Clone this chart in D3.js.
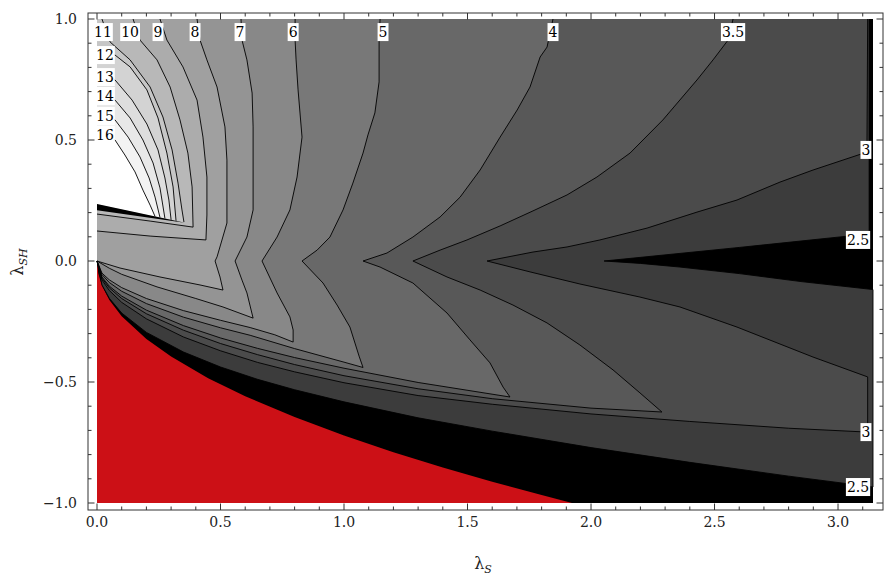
<!DOCTYPE html>
<html><head><meta charset="utf-8">
<script src="https://cdn.jsdelivr.net/npm/d3@7"></script>
<style>body{margin:0;background:#fff}
.sf{font-family:"DejaVu Serif", serif !important}
</style>
</head><body><svg id="c" width="884" height="579" style="font-family:'DejaVu Serif', serif"></svg>
<script>
// ---------- data ----------
const xDomain = [0, Math.PI];
const yDomain = [-1, 1];
const xTicks = [0, 0.5, 1, 1.5, 2, 2.5, 3];
const yTicks = [-1, -0.5, 0, 0.5, 1];
const levels = [2.5, 3, 3.5, 4, 5, 6, 7, 8, 9, 10, 11, 12, 13, 14, 15, 16];
const bandColors = ["#3c3c3c","#4b4b4b","#585858","#686868","#787878","#888888","#949494","#a0a0a0","#acacac","#b8b8b8","#c6c6c6","#d3d3d3","#dedede","#e8e8e8","#f3f3f3","#ffffff"];

// contour lines (λS, λSH)
const c25 = [[0,0],[0.02,-0.099],[0.05,-0.154],[0.1,-0.215],[0.2,-0.295],[0.35,-0.376],[0.5,-0.438],[0.65,-0.489],[0.8,-0.532],[1.0,-0.582],[1.3,-0.648],[1.6,-0.703],[2.0,-0.771],[2.4,-0.832],[2.8,-0.889],[3.1416,-0.934],[3.1416,-0.118],[2.85,-0.085],[2.6,-0.052],[2.36,-0.025],[2.2,-0.01],[2.053,0],[2.6,0.056],[3.126,0.112],[3.126,1.0]];
const c3 = [[0,0],[0.02,-0.078],[0.05,-0.122],[0.1,-0.171],[0.2,-0.239],[0.35,-0.314],[0.5,-0.371],[0.65,-0.419],[0.8,-0.458],[1.0,-0.503],[1.3,-0.556],[1.6,-0.592],[2.0,-0.632],[2.4,-0.663],[2.8,-0.691],[3.12,-0.707],[3.12,-0.479],[2.899,-0.397],[2.591,-0.273],[2.36,-0.19],[2.198,-0.149],[1.955,-0.095],[1.753,-0.045],[1.579,0],[1.765,0.037],[1.903,0.058],[2.036,0.087],[2.227,0.136],[2.429,0.202],[2.591,0.252],[2.765,0.326],[2.899,0.376],[3.117,0.45],[3.12,1.0]];
const c35 = [[0,0],[0.02,-0.071],[0.05,-0.111],[0.1,-0.155],[0.2,-0.218],[0.35,-0.286],[0.5,-0.341],[0.65,-0.387],[0.8,-0.428],[1.0,-0.474],[1.3,-0.528],[1.6,-0.569],[2.0,-0.608],[2.287,-0.624],[2.198,-0.545],[2.089,-0.45],[1.955,-0.347],[1.822,-0.256],[1.684,-0.182],[1.551,-0.12],[1.417,-0.066],[1.279,0],[1.389,0.045],[1.498,0.087],[1.632,0.145],[1.765,0.207],[1.903,0.273],[2.024,0.347],[2.158,0.446],[2.291,0.583],[2.429,0.748],[2.494,0.831],[2.555,0.913],[2.575,1.0]];
const c4 = [[0,0],[0.02,-0.066],[0.05,-0.104],[0.1,-0.145],[0.2,-0.203],[0.35,-0.267],[0.5,-0.318],[0.65,-0.361],[0.8,-0.399],[1.0,-0.443],[1.3,-0.502],[1.672,-0.562],[1.644,-0.521],[1.591,-0.421],[1.51,-0.326],[1.417,-0.215],[1.279,-0.091],[1.146,-0.025],[1.077,0],[1.174,0.033],[1.279,0.099],[1.389,0.182],[1.47,0.264],[1.551,0.376],[1.632,0.512],[1.701,0.624],[1.753,0.719],[1.794,0.843],[1.822,0.884],[1.846,1.0]];
const c5 = [[0,0],[0.02,-0.056],[0.05,-0.089],[0.1,-0.125],[0.2,-0.176],[0.35,-0.232],[0.5,-0.276],[0.62,-0.307],[0.8,-0.362],[1.0,-0.418],[1.077,-0.44],[1.061,-0.393],[1.024,-0.273],[0.972,-0.182],[0.915,-0.091],[0.83,0],[0.891,0.045],[0.943,0.099],[0.996,0.211],[1.036,0.322],[1.077,0.446],[1.097,0.521],[1.125,0.612],[1.142,0.74],[1.142,0.913],[1.146,1.0]];
const c6 = [[0,0],[0.02,-0.05],[0.05,-0.078],[0.1,-0.11],[0.2,-0.155],[0.35,-0.205],[0.5,-0.245],[0.62,-0.275],[0.72,-0.305],[0.794,-0.335],[0.794,-0.285],[0.781,-0.231],[0.729,-0.132],[0.668,0],[0.729,0.099],[0.781,0.211],[0.81,0.347],[0.83,0.512],[0.814,0.707],[0.806,0.831],[0.802,0.913],[0.802,1.0]];
const c7 = [[0,0],[0.05,-0.03],[0.1,-0.055],[0.243,-0.107],[0.4,-0.155],[0.51,-0.19],[0.632,-0.236],[0.607,-0.132],[0.587,-0.079],[0.559,0],[0.607,0.099],[0.632,0.211],[0.632,0.554],[0.628,0.694],[0.607,0.831],[0.587,0.913],[0.583,1.0]];
const c8 = [[0,0],[0.093,-0.029],[0.255,-0.066],[0.417,-0.099],[0.51,-0.12],[0.498,-0.066],[0.478,0],[0.486,0.017],[0.526,0.157],[0.526,0.417],[0.518,0.554],[0.486,0.719],[0.445,0.831],[0.417,0.913],[0.405,1.0]];
const c9 = [[0.255,1.0],[0.283,0.913],[0.348,0.802],[0.405,0.665],[0.429,0.512],[0.445,0.347],[0.445,0.19],[0.441,0.087],[0.215,0.103],[0,0.124]];
const c10 = [[0.146,1.0],[0.174,0.913],[0.243,0.831],[0.296,0.719],[0.336,0.583],[0.368,0.446],[0.385,0.306],[0.389,0.14],[0.215,0.165],[0,0.194]];
const c11 = [[0.02,1.0],[0.053,0.905],[0.134,0.831],[0.215,0.719],[0.267,0.595],[0.304,0.459],[0.328,0.322],[0.344,0.211],[0.352,0.161]];
const c12 = [[0,0.86],[0.073,0.851],[0.134,0.802],[0.202,0.707],[0.247,0.591],[0.283,0.446],[0.308,0.306],[0.32,0.166]];
const c13 = [[0,0.769],[0.073,0.748],[0.142,0.665],[0.202,0.566],[0.247,0.459],[0.275,0.343],[0.291,0.252],[0.3,0.17]];
const c14 = [[0,0.686],[0.073,0.665],[0.134,0.591],[0.186,0.5],[0.227,0.405],[0.255,0.302],[0.275,0.176]];
const c15 = [[0,0.603],[0.073,0.583],[0.126,0.512],[0.174,0.43],[0.211,0.343],[0.235,0.264],[0.255,0.18]];
const c16 = [[0,0.525],[0.073,0.5],[0.113,0.438],[0.154,0.368],[0.186,0.293],[0.215,0.231],[0.235,0.184]];
const contourLines = [c25, c3, c35, c4, c5, c6, c7, c8, c9, c10, c11, c12, c13, c14, c15, c16];
// boundary points that close each super-level region
const closeTop = [[0,1]];
const closeWedge = [[0,0.236]];
const closures = [closeTop, closeTop, closeTop, closeTop, closeTop, closeTop, closeTop, closeTop, closeTop, closeTop, [[0,0.236],[0,1]], closeWedge, closeWedge, closeWedge, closeWedge, closeWedge];

const wedge = [[0,0.236],[0.355,0.158],[0,0.21]];
const redBoundary = [[0,0],[0.005,-0.051],[0.02,-0.102],[0.05,-0.161],[0.1,-0.228],[0.2,-0.322],[0.3,-0.395],[0.45,-0.484],[0.6,-0.559],[0.8,-0.645],[1.0,-0.721],[1.2,-0.79],[1.4,-0.853],[1.6,-0.912],[1.8,-0.967],[1.923,-1.0],[0,-1]];

const labelText = ["11","10","9","8","7","6","5","4","3.5","12","13","14","15","16","3","2.5","3","2.5"];
const labelX = [0.024,0.134,0.247,0.397,0.579,0.794,1.158,1.846,2.575,0.032,0.032,0.032,0.032,0.032,3.113,3.081,3.113,3.081];
const labelY = [0.946,0.946,0.946,0.946,0.946,0.946,0.946,0.946,0.946,0.851,0.76,0.682,0.599,0.521,0.459,0.087,-0.707,-0.934];

// ---------- drawing ----------
const svg = d3.select("#c");
const x = d3.scaleLinear().domain(xDomain).range([97, 873]);
const y = d3.scaleLinear().domain(yDomain).range([503, 19]);
const line = d3.line().x(d => x(d[0])).y(d => y(d[1]));
const frame = {l: 88, t: 13, r: 883, b: 510};

const plot = svg.append("g");
plot.append("rect").attr("x", x(0)).attr("y", y(1)).attr("width", x(Math.PI) - x(0)).attr("height", y(-1) - y(1)).attr("fill", "#000");
contourLines.forEach((pts, i) => {
  plot.append("path").attr("d", line(pts.concat(closures[i])) + "Z").attr("fill", bandColors[i]);
});
plot.append("path").attr("d", line(wedge) + "Z").attr("fill", "#000");
plot.append("path").attr("d", line(redBoundary) + "Z").attr("fill", "#cc1016");
contourLines.forEach(pts => {
  plot.append("path").attr("d", line(pts)).attr("fill", "none").attr("stroke", "#000").attr("stroke-width", 0.9).attr("stroke-linejoin", "round");
});

// contour labels
const lab = svg.append("g").attr("font-size", 14);
labelText.forEach((t, i) => {
  const g = lab.append("g");
  const tx = g.append("text").attr("class", "sf").attr("x", x(labelX[i])).attr("y", y(labelY[i])).attr("text-anchor", "middle").attr("dy", "0.36em").text(t);
  const bb = tx.node().getBBox();
  g.insert("rect", "text").attr("x", bb.x - 1).attr("y", y(labelY[i]) - 9).attr("width", bb.width + 2).attr("height", 18).attr("fill", "#fff");
});

// frame & ticks
svg.append("rect").attr("x", frame.l).attr("y", frame.t).attr("width", frame.r - frame.l).attr("height", frame.b - frame.t).attr("fill", "none").attr("stroke", "#333").attr("stroke-width", 1);
const xMinor = d3.range(0, 3.15, 0.1).filter(v => Math.abs(v * 2 - Math.round(v * 2)) > 1e-6);
const yMinor = d3.range(-1, 1.001, 0.1).filter(v => Math.abs(v * 2 - Math.round(v * 2)) > 1e-6);
const tk = svg.append("g").attr("stroke", "#333").attr("stroke-width", 1);
xTicks.forEach(v => { tk.append("line").attr("x1", x(v)).attr("x2", x(v)).attr("y1", frame.b).attr("y2", frame.b - 6.5); tk.append("line").attr("x1", x(v)).attr("x2", x(v)).attr("y1", frame.t).attr("y2", frame.t + 6.5); });
xMinor.forEach(v => { tk.append("line").attr("x1", x(v)).attr("x2", x(v)).attr("y1", frame.b).attr("y2", frame.b - 3.5); tk.append("line").attr("x1", x(v)).attr("x2", x(v)).attr("y1", frame.t).attr("y2", frame.t + 3.5); });
yTicks.forEach(v => { tk.append("line").attr("y1", y(v)).attr("y2", y(v)).attr("x1", frame.l).attr("x2", frame.l + 6.5); tk.append("line").attr("y1", y(v)).attr("y2", y(v)).attr("x1", frame.r).attr("x2", frame.r - 6.5); });
yMinor.forEach(v => { tk.append("line").attr("y1", y(v)).attr("y2", y(v)).attr("x1", frame.l).attr("x2", frame.l + 3.5); tk.append("line").attr("y1", y(v)).attr("y2", y(v)).attr("x1", frame.r).attr("x2", frame.r - 3.5); });

const fmt = d3.format(".1f");
const axT = svg.append("g").attr("font-size", 14).attr("fill", "#222");
xTicks.forEach(v => axT.append("text").attr("class", "sf").attr("x", x(v)).attr("y", 527).attr("text-anchor", "middle").text(fmt(v)));
yTicks.forEach(v => axT.append("text").attr("class", "sf").attr("x", 77).attr("y", y(v)).attr("dy", "0.36em").attr("text-anchor", "end").text(fmt(v)));

const xl = svg.append("text").attr("class", "sf").attr("x", 483).attr("y", 569).attr("text-anchor", "middle").attr("font-size", 16).attr("fill", "#222");
xl.append("tspan").text("λ");
xl.append("tspan").attr("font-size", 11).attr("font-style", "italic").attr("dy", 4).text("S");
const yl = svg.append("text").attr("class", "sf").attr("transform", "translate(23,262) rotate(-90)").attr("text-anchor", "middle").attr("font-size", 16).attr("fill", "#222");
yl.append("tspan").text("λ");
yl.append("tspan").attr("font-size", 11).attr("font-style", "italic").attr("dy", 4).text("SH");
</script></body></html>
